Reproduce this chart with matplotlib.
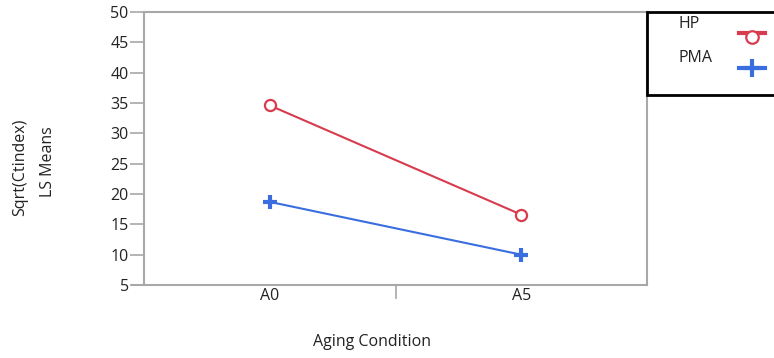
import matplotlib
matplotlib.use("Agg")
import matplotlib.pyplot as plt
from matplotlib.lines import Line2D
from matplotlib.patches import Rectangle

plt.rcParams['font.family'] = ['Open Sans', 'DejaVu Sans']

conditions = ["A0", "A5"]
series_names = ["HP", "PMA"]
hp_means = [34.6, 16.6]
pma_means = [18.7, 10.0]
y_ticks = [5, 10, 15, 20, 25, 30, 35, 40, 45, 50]

red = "#d83b4d"
blue = "#3a6ee0"
gray = "#a8a8a8"
txt = "#222222"
fs = 11.5

W, H = 774, 358
fig = plt.figure(figsize=(W / 100, H / 100), dpi=100)
ax = fig.add_axes([144 / W, 1 - 285 / H, (647 - 144) / W, (285 - 12) / H])

x = list(range(len(conditions)))
ax.plot(x, hp_means, color=red, lw=1.5, marker='o', ms=8, mfc='white',
        mec=red, mew=1.6, zorder=3)
ax.plot(x, pma_means, color=blue, lw=1.5, zorder=3)
ax.plot(x, pma_means, ls='none', marker='+', ms=10, mew=3, color=blue, zorder=4)

ax.set_xlim(-0.5, 1.5)
ax.set_ylim(5, 50)
ax.set_yticks(y_ticks)
ax.set_yticklabels([str(t) for t in y_ticks], fontsize=fs, color=txt)
ax.tick_params(axis='y', length=10, width=1.2, color=gray, pad=1)

# Category labels without tick marks; a single divider tick between them
ax.set_xticks(x)
ax.set_xticklabels(conditions, fontsize=fs, color=txt)
ax.tick_params(axis='x', length=0, pad=2)
ax.set_xticks([0.5], minor=True)
ax.tick_params(axis='x', which='minor', length=10, width=1.2, color=gray)

for s in ax.spines.values():
    s.set_color(gray)
    s.set_linewidth(1.5)

# x axis base line extends slightly left of the y spine
fig.add_artist(Line2D([132 / W, 144 / W], [1 - 285 / H, 1 - 285 / H],
                      color=gray, lw=1.5))

fig.text(20 / W, 1 - 167 / H, "Sqrt(Ctindex)", rotation=90, ha='center',
         va='center', fontsize=fs, color=txt)
fig.text(48 / W, 1 - 162 / H, "LS Means", rotation=90, ha='center',
         va='center', fontsize=fs, color=txt)
fig.text(372 / W, 1 - 342 / H, "Aging Condition", ha='center', va='center',
         fontsize=fs, color=txt)

# Legend box
fig.add_artist(Rectangle((647 / W, 1 - 95 / H), (W - 646) / W, 83 / H,
                         fill=False, ec='black', lw=2))
fig.text(679 / W, 1 - 24 / H, series_names[0], ha='left', va='center',
         fontsize=fs, color=txt)
fig.text(679 / W, 1 - 58 / H, series_names[1], ha='left', va='center',
         fontsize=fs, color=txt)
fig.add_artist(Line2D([739 / W, 765 / W], [1 - 33 / H, 1 - 33 / H],
                      color=red, lw=3))
fig.add_artist(Line2D([752 / W], [1 - 37 / H], color=red, marker='o', ms=9,
                      mfc='white', mec=red, mew=1.6, ls='none'))
fig.add_artist(Line2D([739 / W, 765 / W], [1 - 68 / H, 1 - 68 / H],
                      color=blue, lw=3))
fig.add_artist(Line2D([752 / W], [1 - 68 / H], color=blue, marker='+', ms=13,
                      mew=3, ls='none'))

fig.savefig("out.png", dpi=100)
